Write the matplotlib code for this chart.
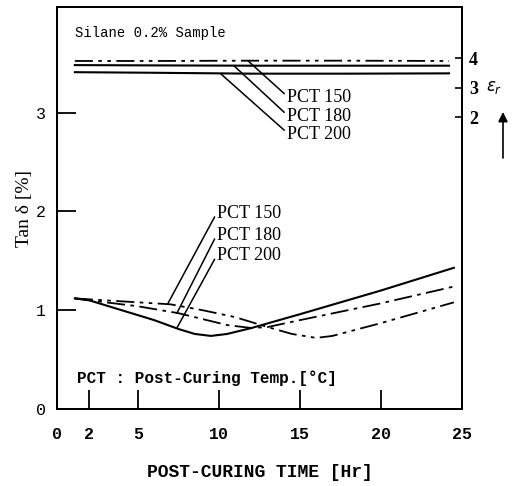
import matplotlib
matplotlib.use("Agg")
import matplotlib.pyplot as plt

# post-curing time [Hr] and Tan delta [%] for each post-curing temp
time_150 = [1.1, 3, 5, 7, 9, 11, 13, 14.5, 16, 17, 20, 24.5]
tan_150 = [1.12, 1.10, 1.08, 1.06, 1.00, 0.93, 0.83, 0.76, 0.72, 0.74, 0.87, 1.08]

time_180 = [1.1, 3, 5, 7.5, 9, 10.5, 12, 13, 15, 20, 24.5]
tan_180 = [1.12, 1.08, 1.04, 0.97, 0.91, 0.85, 0.82, 0.83, 0.90, 1.07, 1.24]

time_200 = [1.1, 2, 4, 6, 7.5, 8.5, 9.5, 10.5, 12, 15, 20, 24.5]
tan_200 = [1.12, 1.10, 1.00, 0.90, 0.81, 0.76, 0.74, 0.76, 0.82, 0.96, 1.20, 1.43]

# dielectric constant (epsilon r), right axis
time_eps = [1.1, 6, 12, 18, 24.2]
eps_150 = [3.90, 3.90, 3.91, 3.91, 3.90]
eps_180 = [3.76, 3.75, 3.74, 3.74, 3.74]
eps_200 = [3.52, 3.50, 3.47, 3.47, 3.48]

x_ticks = [0, 2, 5, 10, 15, 20, 25]
y_ticks = [0, 1, 2, 3]
eps_ticks = [2, 3, 4]

MONO = "Liberation Mono"
SERIF = "Liberation Serif"

STY_150 = (0, (10, 3, 2, 3, 2, 3))
STY_180 = (0, (10, 3, 2, 3))
STY_200 = "-"

fig = plt.figure(figsize=(5.15, 4.86), dpi=100)
ax = fig.add_axes([0.1107, 0.1584, 0.7864, 0.8272])
ax2 = ax.twinx()

ax.plot(time_150, tan_150, color="black", lw=1.3, ls=STY_150)
ax.plot(time_180, tan_180, color="black", lw=1.3, ls=STY_180)
ax.plot(time_200, tan_200, color="black", lw=1.5, ls=STY_200)

ax2.plot(time_eps, eps_150, color="black", lw=1.3, ls=STY_150)
ax2.plot(time_eps, eps_180, color="black", lw=1.5, ls=STY_200)
ax2.plot(time_eps, eps_200, color="black", lw=1.5, ls=STY_200)

ax.set_xlim(0, 25)
ax.set_ylim(0, 4.07)
ax2.set_ylim(-7.9, 5.73)

ax.set_xticks(x_ticks)
ax.set_xticklabels([str(t) for t in x_ticks], fontfamily=MONO,
                   fontsize=12, fontweight="bold")
ax.set_yticks(y_ticks)
ax.set_yticklabels([str(t) for t in y_ticks], fontfamily=MONO, fontsize=12)
ax.tick_params(axis="x", direction="in", length=14, width=1.3, pad=13)
ax.tick_params(axis="y", direction="in", length=14, width=1.3, pad=8)

ax2.set_yticks(eps_ticks)
ax2.set_yticklabels([str(t) for t in eps_ticks], fontfamily=SERIF,
                    fontsize=13, fontweight="bold")
ax2.tick_params(axis="y", direction="in", length=5, width=1.2, pad=5)

for a in (ax, ax2):
    for s in a.spines.values():
        s.set_linewidth(1.4)

ax.set_xlabel("POST-CURING TIME [Hr]", fontfamily=MONO, fontsize=13,
              fontweight="bold", labelpad=16)
ax.set_ylabel("Tan \u03b4 [%]", fontfamily=SERIF, fontsize=14, labelpad=2)

ax.text(0.045, 0.935, "Silane 0.2% Sample", transform=ax.transAxes,
        fontfamily=MONO, fontsize=10, va="center")
ax.text(0.05, 0.077, "PCT : Post-Curing Temp.[\u00b0C]", transform=ax.transAxes,
        fontfamily=MONO, fontsize=11.5, fontweight="bold", va="center")

# leaders for the epsilon lines
leader = dict(arrowstyle="-", color="black", lw=1.1, relpos=(0, 0.6),
              shrinkA=0, shrinkB=0)
eps_labels = [("PCT 150", 11.8, eps_150[1], 3.15),
              ("PCT 180", 10.9, eps_180[1], 2.96),
              ("PCT 200", 10.1, eps_200[2], 2.78)]
for lbl, xp, yp, ty in eps_labels:
    ax2.annotate(lbl, xy=(xp, yp), xytext=(14.2, ty), textcoords=ax.transData,
                 fontfamily=SERIF, fontsize=13, va="center", ha="left",
                 arrowprops=leader)

# leaders for the tan delta curves
tan_labels = [("PCT 150", 6.85, 1.07, 1.98),
              ("PCT 180", 7.4, 0.97, 1.76),
              ("PCT 200", 7.4, 0.82, 1.55)]
for lbl, xp, yp, ty in tan_labels:
    ax.annotate(lbl, xy=(xp, yp), xytext=(9.9, ty),
                fontfamily=SERIF, fontsize=13, va="center", ha="left",
                arrowprops=leader)

# epsilon r label with the upward arrow on the right
fig.text(494 / 515, 1 - 87 / 486, r"$\varepsilon_r$", fontsize=12,
         ha="center", va="center")
ax.annotate("", xy=(503, 486 - 112), xytext=(503, 486 - 158),
            xycoords="figure pixels", textcoords="figure pixels",
            arrowprops=dict(arrowstyle="-|>", color="black", lw=1.2,
                            mutation_scale=14, shrinkA=0, shrinkB=0),
            annotation_clip=False)

fig.savefig("out.png", dpi=100)
